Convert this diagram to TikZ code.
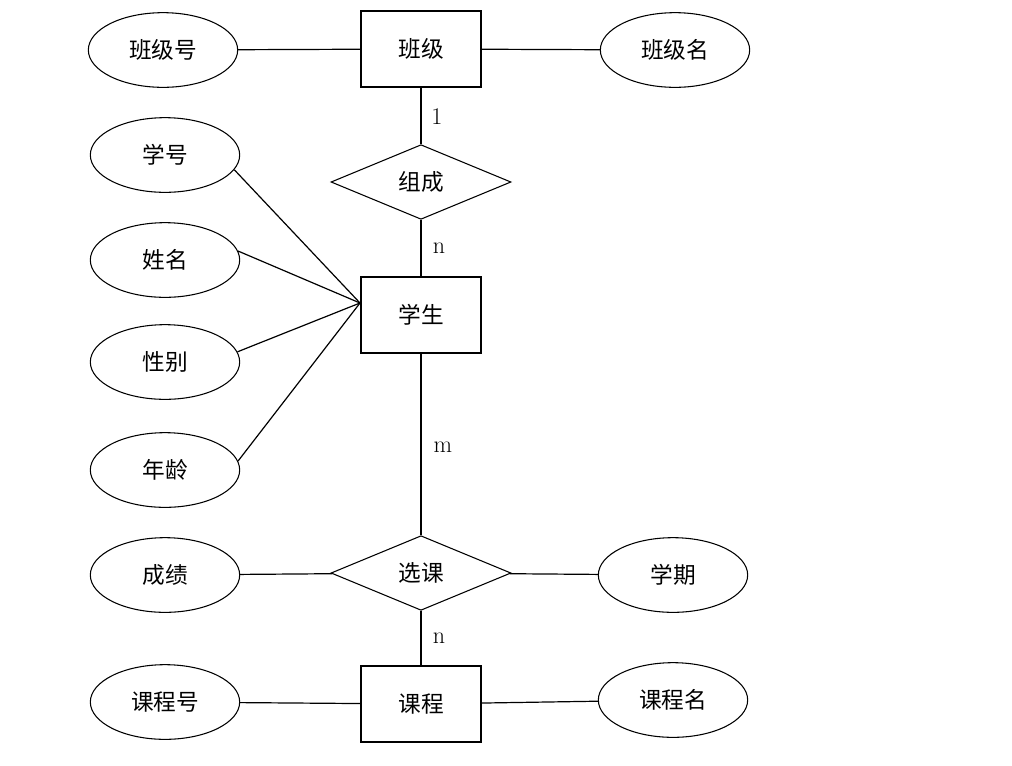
\documentclass[tikz,border=0pt]{standalone}
\usepackage{fontspec}
\newfontfamily\cjk{Noto Sans CJK SC}
\usetikzlibrary{shapes.geometric}
\begin{document}
\begin{tikzpicture}[x=0.75pt,y=-0.75pt,
  entity/.style={draw,line width=1.3pt,minimum width=90pt,minimum height=57pt,inner sep=0pt,font=\cjk\fontsize{17}{19}\selectfont},
  rel/.style={draw,diamond,line width=0.8pt,minimum width=135pt,minimum height=56pt,aspect=2.4,inner sep=0pt,font=\cjk\fontsize{17}{19}\selectfont},
  attr/.style={draw,ellipse,line width=0.8pt,minimum width=112pt,minimum height=56pt,inner sep=0pt,font=\cjk\fontsize{17}{19}\selectfont},
  conn/.style={line width=0.9pt},
  card/.style={font=\fontsize{18}{20}\selectfont,inner sep=0pt}]
\useasboundingbox (0,0) rectangle (1012,765);
% entities
\node[entity] (bj) at (421,49) {班级};
\node[entity] (xs) at (421,315) {学生};
\node[entity] (kc) at (421,704) {课程};
% relations
\node[rel] (zc) at (421,182) {组成};
\node[rel] (xk) at (421,573) {选课};
% attributes
\node[attr] (bjh) at (163,50) {班级号};
\node[attr] (bjm) at (675,50) {班级名};
\node[attr] (xh) at (165,155) {学号};
\node[attr] (xm) at (165,260) {姓名};
\node[attr] (xb) at (165,362) {性别};
\node[attr] (nl) at (165,470) {年龄};
\node[attr] (cj) at (165,575) {成绩};
\node[attr] (xq) at (673,575) {学期};
\node[attr] (kch) at (165,702) {课程号};
\node[attr] (kcm) at (673,700) {课程名};
\coordinate (hub) at (360,303);
% connectors
\draw[conn] (bjh) -- (bj);
\draw[conn] (bj) -- (bjm);
\draw[conn] (bj) -- (zc);
\draw[conn] (zc) -- (xs);
\draw[conn] (xs) -- (xk);
\draw[conn] (xk) -- (kc);
\draw[conn] (cj) -- (xk);
\draw[conn] (xk) -- (xq);
\draw[conn] (kch) -- (kc);
\draw[conn] (kc) -- (kcm);
\draw[conn] (xh.-12) -- (hub);
\draw[conn] (xm.7) -- (hub);
\draw[conn] (xb.8) -- (hub);
\draw[conn] (nl.7) -- (hub);
% cardinalities
\node[card] (c1) at (437,117) {1};
\node[card] (c2) at (439,248) {n};
\node[card] (c3) at (443,447) {m};
\node[card] (c4) at (439,638) {n};
\end{tikzpicture}
\end{document}
